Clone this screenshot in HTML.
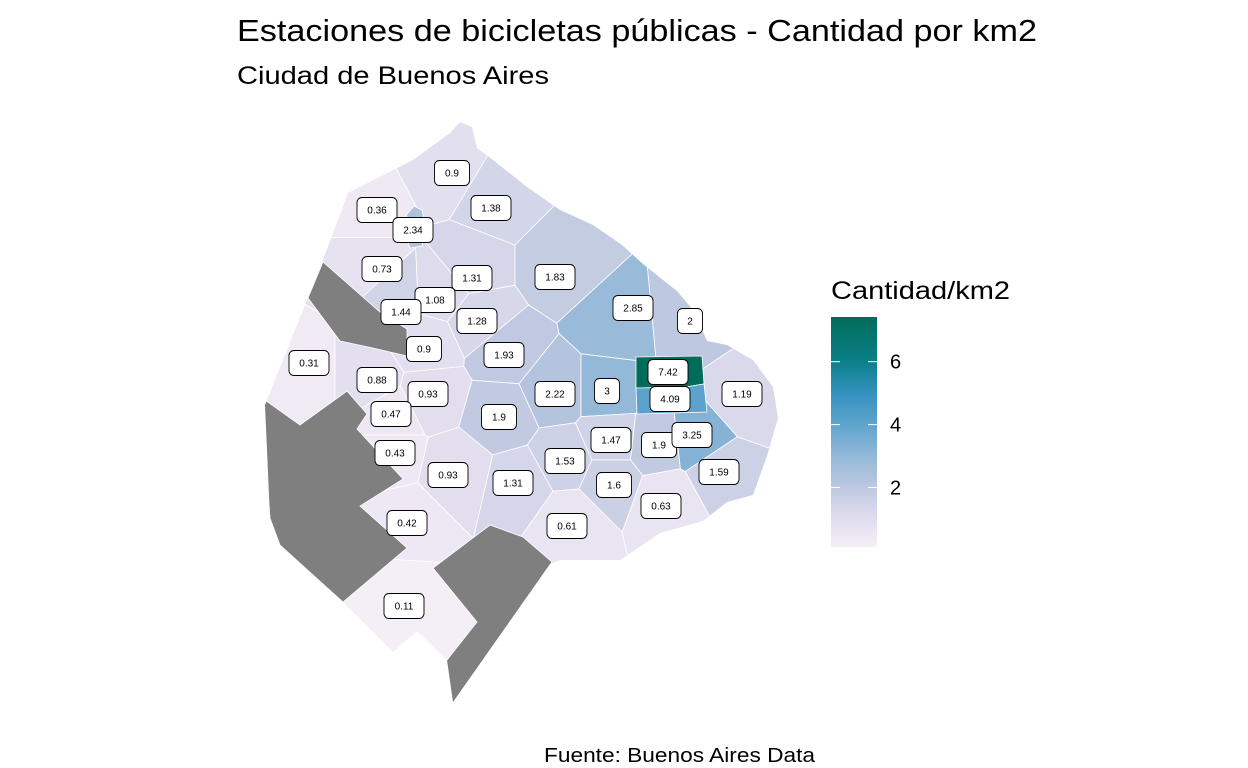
<!DOCTYPE html>
<html><head><meta charset="utf-8">
<style>
body{margin:0;background:#fff;}
svg{display:block;font-family:"Liberation Sans",sans-serif;}
</style></head>
<body>
<svg id="chart" width="1248" height="768" viewBox="0 0 1248 768">
  <text x="237" y="41" font-size="31" textLength="800" lengthAdjust="spacingAndGlyphs" fill="#000">Estaciones de bicicletas públicas - Cantidad por km2</text>
  <text x="237" y="84" font-size="25" textLength="312" lengthAdjust="spacingAndGlyphs" fill="#000">Ciudad de Buenos Aires</text>
  <text x="544" y="762" font-size="20" textLength="271" lengthAdjust="spacingAndGlyphs" fill="#000">Fuente: Buenos Aires Data</text>
  <defs>
    <clipPath id="cityclip"><polygon id="cityPoly" points=""/></clipPath>
    <linearGradient id="legGrad" x1="0" y1="1" x2="0" y2="0"></linearGradient>
  </defs>
  <g id="map" clip-path="url(#cityclip)"></g>
  <g id="labels"></g>
  <g id="legend">
    <text x="831" y="299" font-size="25" textLength="179" lengthAdjust="spacingAndGlyphs">Cantidad/km2</text>
  </g>
</svg>
<script>
// ---- data ----
const regionValues = [0.9,0.36,2.34,1.38,0.73,1.31,1.83,1.08,1.44,1.28,2.85,2,0.9,1.93,0.31,0.88,0.93,2.22,3,7.42,4.09,1.19,0.47,1.9,1.47,1.9,3.25,0.43,1.53,0.93,1.31,1.6,1.59,0.63,0.42,0.61,0.11];
const legendTicks = [2,4,6];
const valueMin = 0.11, valueMax = 7.42;

// ---- geometry (not data) ----
const sites = [[445,170],[370,210],[418,228],[495,200],[370,265],[470,265],[560,265],[440,290],[395,292],[480,320],[615,325],[690,318],[425,345],[505,350],[300,380],[370,380],[430,395],[555,390],[607,390],[669,372],[670,400],[745,400],[390,415],[500,415],[610,440],[655,445],[700,440],[390,455],[565,460],[455,470],[520,485],[610,480],[720,470],[665,500],[405,520],[570,520],[400,600]];
const labelPos = [[452,173],[377,210],[413,230],[491,208],[382,269],[472,278],[555,277],[435,300],[401,312],[477,321],[633,308],[690,321],[424,349],[504,355],[309,363],[377,380],[428,394],[555,394],[607,391],[668,372],[670,399],[742,394],[391,414],[499,417],[611,440],[659,445],[692,435],[395,453],[565,461],[448,475],[513,483],[614,485],[719,472],[661,506],[407,523],[567,526],[404,606]];
const explicitShapes = {
 2:[[407,214],[414,206],[422,210],[426,228],[422,246],[410,248],[405,232]],
 19:[[636,357],[702,356],[704,384],[686,387],[636,388]],
 20:[[636,388],[686,387],[704,384],[707,412],[637,414]]};
const noVoronoi = [2,19,20];
const city = [[265,405],[323,260],[348,193],[413,160],[450,133],[460,122],[472,127],[477,148],[493,160],[527,187],[560,210],[593,225],[622,245],[643,264],[677,291],[693,310],[707,341],[727,345],[753,360],[773,387],[778,418],[767,456],[753,495],[727,502],[703,521],[660,533],[620,560],[560,560],[550,564],[453,702],[447,660],[417,631],[393,652],[343,602],[280,545],[270,518]];
const greys = [
 [[323,262],[380,312],[407,329],[407,356],[373,348],[340,341],[308,298]],
 [[262,398],[300,425],[347,391],[367,414],[357,429],[403,479],[360,506],[407,548],[343,602],[280,545],[270,518]],
 [[433,568],[490,525],[523,537],[552,562],[453,704],[393,652],[417,631],[447,660],[477,622]]
];

const colorStops = [[0.11,[244,238,246]],[1,[224,221,237]],[2,[190,200,224]],[3,[147,184,216]],[4,[95,164,205]],[5,[53,144,191]],[6,[11,128,138]],[7.42,[1,108,89]]];
function colorScale(v){
  for(let i=0;i<colorStops.length-1;i++){
    const a=colorStops[i],b=colorStops[i+1];
    if(v<=b[0]){const t=Math.max(0,(v-a[0])/(b[0]-a[0]));
      return 'rgb('+a[1].map((c,k)=>Math.round(c+(b[1][k]-c)*t)).join(',')+')';}
  }
  return 'rgb(1,108,89)';
}
const NS='http://www.w3.org/2000/svg';
document.getElementById('cityPoly').setAttribute('points',city.map(p=>p.join(',')).join(' '));
const mapG=document.getElementById('map');
function clipHalf(poly,a,b){
  const mx=(a[0]+b[0])/2,my=(a[1]+b[1])/2,nx=b[0]-a[0],ny=b[1]-a[1];
  const f=p=>(p[0]-mx)*nx+(p[1]-my)*ny;
  const out=[];
  for(let i=0;i<poly.length;i++){
    const p=poly[i],q=poly[(i+1)%poly.length],fp=f(p),fq=f(q);
    if(fp<=0)out.push(p);
    if((fp<0&&fq>0)||(fp>0&&fq<0)){const t=fp/(fp-fq);out.push([p[0]+(q[0]-p[0])*t,p[1]+(q[1]-p[1])*t]);}
  }
  return out;
}
regionValues.forEach((v,i)=>{
  if(noVoronoi.includes(i))return;
  let poly=[[200,80],[820,80],[820,720],[200,720]];
  sites.forEach((s,j)=>{if(j!==i&&!noVoronoi.includes(j))poly=clipHalf(poly,sites[i],s);});
  const p=document.createElementNS(NS,'polygon');
  p.setAttribute('points',poly.map(q=>q[0].toFixed(1)+','+q[1].toFixed(1)).join(' '));
  p.setAttribute('fill',colorScale(v));
  p.setAttribute('stroke','#fff');
  p.setAttribute('stroke-width','0.8');
  
  
  mapG.appendChild(p);
});
Object.keys(explicitShapes).forEach(k=>{
  const p=document.createElementNS(NS,'polygon');
  p.setAttribute('points',explicitShapes[k].map(q=>q.join(',')).join(' '));
  p.setAttribute('fill',colorScale(regionValues[k]));
  p.setAttribute('stroke','#fff');
  p.setAttribute('stroke-width','0.8');
  
  
  mapG.appendChild(p);
});
greys.forEach((g,i)=>{
  const p=document.createElementNS(NS,'polygon');
  p.setAttribute('points',g.map(q=>q.join(',')).join(' '));
  p.setAttribute('fill','#7f7f7f');
  p.setAttribute('stroke','#fff');
  p.setAttribute('stroke-width','0.8');
  
  
  mapG.appendChild(p);
});
const labG=document.getElementById('labels');
regionValues.forEach((v,i)=>{
  const txt=String(v),w=txt.length*5+20,h=25,[x,y]=labelPos[i];
  const g=document.createElementNS(NS,'g');
  
  
  const r=document.createElementNS(NS,'rect');
  r.setAttribute('x',x-w/2);r.setAttribute('y',y-h/2);r.setAttribute('width',w);r.setAttribute('height',h);
  r.setAttribute('rx',5);r.setAttribute('fill','#fff');r.setAttribute('stroke','#000');r.setAttribute('stroke-width','0.9');
  const t=document.createElementNS(NS,'text');
  t.setAttribute('x',x);t.setAttribute('y',y+3.5);t.setAttribute('font-size','10');t.setAttribute('text-anchor','middle');
  t.textContent=txt;
  g.appendChild(r);g.appendChild(t);labG.appendChild(g);
});
const grad=document.getElementById('legGrad');
colorStops.forEach(s=>{
  const st=document.createElementNS(NS,'stop');
  st.setAttribute('offset',((s[0]-valueMin)/(valueMax-valueMin)*100)+'%');
  st.setAttribute('stop-color','rgb('+s[1].join(',')+')');
  grad.appendChild(st);
});
const legG=document.getElementById('legend');
const barTop=317,barBot=547,barX=831,barW=46;
const ly=v=>barBot-(v-valueMin)/(valueMax-valueMin)*(barBot-barTop);
const bar=document.createElementNS(NS,'rect');
bar.setAttribute('x',barX);bar.setAttribute('y',barTop);bar.setAttribute('width',barW);bar.setAttribute('height',barBot-barTop);
bar.setAttribute('fill','url(#legGrad)');


legG.appendChild(bar);
legendTicks.forEach(v=>{
  const y=ly(v);
  [[barX,barX+9],[barX+barW-9,barX+barW]].forEach(([a,b])=>{
    const l=document.createElementNS(NS,'line');
    l.setAttribute('x1',a);l.setAttribute('x2',b);l.setAttribute('y1',y);l.setAttribute('y2',y);
    l.setAttribute('stroke','#fff');l.setAttribute('stroke-width','1');
    
    
    legG.appendChild(l);
  });
  const t=document.createElementNS(NS,'text');
  t.setAttribute('x',890);t.setAttribute('y',y+7);t.setAttribute('font-size','20');
  t.textContent=v;
  
  
  legG.appendChild(t);
});
</script>
</body></html>
